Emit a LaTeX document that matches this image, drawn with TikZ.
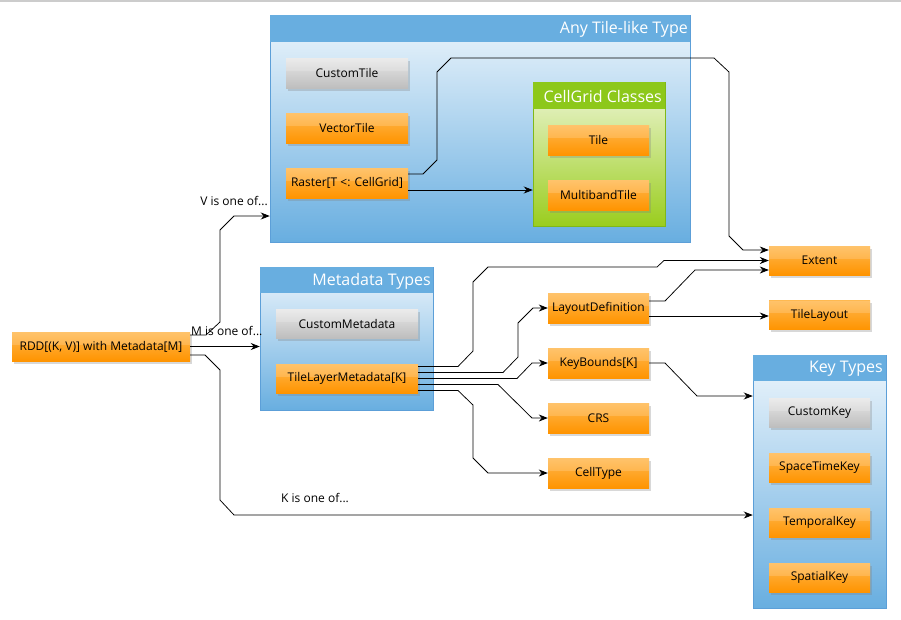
\documentclass[tikz,border=0pt]{standalone}
\usepackage{fontspec}
\setmainfont{Open Sans}
\usetikzlibrary{arrows.meta,shadows}
\definecolor{orgTop}{HTML}{FFB84F}
\definecolor{orgBot}{HTML}{FF9400}
\definecolor{gryTop}{HTML}{E8E8E8}
\definecolor{gryBot}{HTML}{BEBEBE}
\definecolor{bluHead}{HTML}{68AEE0}
\definecolor{bluLight}{HTML}{EEF6FC}
\definecolor{bluEdge}{HTML}{5C9FD8}
\definecolor{grnHead}{HTML}{8DC81A}
\definecolor{grnLight}{HTML}{EEF6D6}
\definecolor{grnDark}{HTML}{9ACD1E}
\definecolor{grnEdge}{HTML}{80B818}
\begin{document}
\begin{tikzpicture}[x=1pt,y=-1pt,
  box/.style={minimum width=101pt, minimum height=29pt, inner sep=0pt,
    font=\fontsize{12}{14}\selectfont, text=black,
    drop shadow={shadow xshift=2pt,shadow yshift=-2.5pt,opacity=0.3},
    path picture={\fill[white,opacity=0.16] (path picture bounding box.north west) rectangle ([yshift=2pt]path picture bounding box.east);}},
  org/.style={box, top color=orgTop, bottom color=orgBot},
  gry/.style={box, top color=gryTop, bottom color=gryBot},
  bluebox/.style={inner sep=0pt, top color=bluLight, bottom color=bluHead, draw=bluEdge, line width=0.5pt},
  grnbox/.style={inner sep=0pt, top color=grnLight, bottom color=grnDark, draw=grnEdge, line width=0.5pt},
  title/.style={anchor=east, inner sep=0pt, text=white, font=\fontsize{16}{18}\selectfont},
  lbl/.style={inner sep=0pt, text=black, font=\fontsize{12}{14}\selectfont},
  conn/.style={draw=black, line width=0.75pt},
  arr/.style={conn, -{Stealth[length=9pt,width=7pt]}}
]
\useasboundingbox (0,0) rectangle (901,619);
\fill[white] (0,0) rectangle (901,619);
\draw[black!20, line width=1.5pt] (0,0.75) -- (901,0.75);

% containers
\node[bluebox, minimum width=420pt, minimum height=227pt] (anytile) at (480,128.5) {};
\fill[bluHead] (anytile.north west) rectangle ([yshift=-27pt]anytile.north east);
\node[title] (anytitle) at (688,29) {Any Tile-like Type};

\node[grnbox, minimum width=132pt, minimum height=144pt] (cellgrid) at (599,154) {};
\fill[grnHead] (cellgrid.north west) rectangle ([yshift=-27pt]cellgrid.north east);
\node[title] (cgtitle) at (662,96) {CellGrid Classes};

\node[bluebox, minimum width=173pt, minimum height=143pt] (metatypes) at (346.5,338.5) {};
\fill[bluHead] (metatypes.north west) rectangle ([yshift=-26pt]metatypes.north east);
\node[title] (mttitle) at (431,281) {Metadata Types};

\node[bluebox, minimum width=133pt, minimum height=253pt] (keytypes) at (819.5,481.5) {};
\fill[bluHead] (keytypes.north west) rectangle ([yshift=-26pt]keytypes.north east);
\node[title] (kttitle) at (883,369) {Key Types};

% nodes
\node[gry, minimum width=122pt, minimum height=30pt] (ctile) at (347,73) {CustomTile};
\node[org, minimum width=122pt, minimum height=30pt] (vtile) at (347,128) {VectorTile};
\node[org, minimum width=122pt, minimum height=30pt] (raster) at (347,183) {Raster[T <: CellGrid]};
\node[org, minimum height=30pt] (tile) at (598.5,140) {Tile};
\node[org, minimum height=30pt] (mtile) at (598.5,195) {MultibandTile};

\node[gry, minimum width=142pt] (cmeta) at (347,323.5) {CustomMetadata};
\node[org, minimum width=142pt] (tlm) at (347,378.5) {TileLayerMetadata[K]};
\node[org, minimum width=178pt] (rdd) at (101,346.5) {RDD[(K, V)] with Metadata[M]};

\node[org] (extent) at (819.5,260.5) {Extent};
\node[org] (tlayout) at (819.5,315) {TileLayout};
\node[org, minimum height=30pt] (layoutdef) at (598.5,308) {LayoutDefinition};
\node[org, minimum height=30pt] (keyb) at (598.5,363) {KeyBounds[K]};
\node[org, minimum height=30pt] (crs) at (598.5,418) {CRS};
\node[org, minimum height=30pt] (celltype) at (598.5,473) {CellType};

\node[gry] (ckey) at (819.5,412.5) {CustomKey};
\node[org] (stkey) at (819.5,467.5) {SpaceTimeKey};
\node[org] (tkey) at (819.5,522.5) {TemporalKey};
\node[org] (skey) at (819.5,577.5) {SpatialKey};

% labels
\node[lbl, anchor=east] (vlbl) at (268,201) {V is one of...};
\node[lbl, anchor=west] (mlbl) at (191,331) {M is one of...};
\node[lbl, anchor=west] (klbl) at (281,498) {K is one of...};

% connectors
\draw[arr] ([yshift=9pt]raster.east) -- (423,174) -- (437,160) -- (437,72) -- (451,58)
  -- (714,58) -- (729,72) -- (729,236) -- (743,250) -- ([yshift=10.5pt]extent.west);
\draw[arr] ([yshift=-7pt]raster.east) -- ([yshift=-7pt]raster.east -| cellgrid.west);

\draw[arr] ([yshift=11.5pt]rdd.east) -- (206,335) -- (220,322) -- (220,230) -- (234,216) -- ([yshift=-87.5pt]anytile.west);
\draw[arr] (rdd.east) -- (rdd.east -| metatypes.west);
\draw[arr] ([yshift=-8.5pt]rdd.east) -- (205,355) -- (220,370) -- (220,500) -- (234,515) -- ([yshift=-33.5pt]keytypes.west);

\draw[arr] ([yshift=12pt]tlm.east) -- (458,366.5) -- (473,351) -- (473,282) -- (488,267) -- (657,267) -- (664,260.5) -- (extent.west);
\draw[arr] ([yshift=6pt]tlm.east) -- (503,372.5) -- (518,357) -- (518,323) -- (533,308) -- (layoutdef.west);
\draw[arr] (tlm.east) -- (517,378.5) -- (532,363) -- (keyb.west);
\draw[arr] ([yshift=-6pt]tlm.east) -- (498,384.5) -- (532,418) -- (crs.west);
\draw[arr] ([yshift=-12pt]tlm.east) -- (458,390.5) -- (473,405) -- (473,458) -- (488,473) -- (celltype.west);

\draw[arr] ([yshift=7pt]layoutdef.east) -- (665,301) -- (695,270) -- ([yshift=-9.5pt]extent.west);
\draw[arr] ([yshift=-8pt]layoutdef.east) -- ([yshift=-8pt]layoutdef.east -| tlayout.west);
\draw[arr] (keyb.east) -- (665,363) -- (697,396) -- ([yshift=85.5pt]keytypes.west);
\end{tikzpicture}
\end{document}
